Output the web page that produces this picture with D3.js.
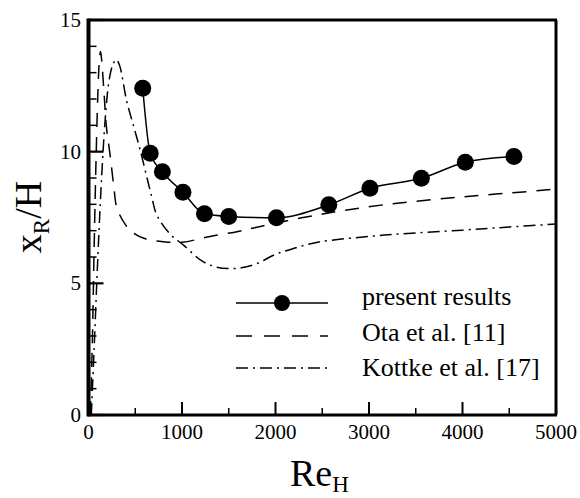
<!DOCTYPE html>
<html><head><meta charset="utf-8">
<script src="https://cdn.jsdelivr.net/npm/d3@7"></script>
<style>body{margin:0;background:#fff}svg{display:block}
svg text{font-family:"Liberation Serif","Tinos","Times New Roman","DejaVu Serif","Noto Serif",serif;}</style>
</head><body>
<svg id="c" width="580" height="498"></svg>
<script>
// present results
const presentRe = [580, 660, 790, 1010, 1240, 1500, 2010, 2570, 3010, 3560, 4030, 4550];
const presentXR = [12.41, 9.94, 9.24, 8.46, 7.64, 7.54, 7.49, 7.98, 8.61, 8.99, 9.60, 9.82];
// Ota et al. [11]
const otaRe = [20, 40, 60, 80, 100, 115, 128, 140, 165, 190, 230, 270, 305, 400, 470, 600, 800, 1000, 1300, 1600, 1850, 2450, 3150, 4050, 4900, 5000];
const otaXR = [0.0, 2.6, 6.3, 9.6, 12.2, 13.4, 13.8, 13.5, 12.3, 11.0, 9.9, 8.7, 7.85, 7.2, 6.94, 6.7, 6.58, 6.56, 6.78, 6.97, 7.17, 7.6, 7.98, 8.3, 8.55, 8.6];
// Kottke et al. [17]
const kotRe = [30, 60, 100, 140, 180, 220, 260, 295, 330, 410, 480, 550, 675, 730, 870, 1020, 1200, 1350, 1500, 1650, 1800, 2000, 2200, 2450, 3000, 3350, 4000, 4500, 5000];
const kotXR = [0.0, 2.5, 6.0, 9.0, 11.3, 12.7, 13.3, 13.5, 13.3, 11.9, 11.0, 10.1, 8.3, 7.6, 6.88, 6.44, 5.88, 5.63, 5.56, 5.6, 5.75, 6.1, 6.33, 6.56, 6.78, 6.88, 7.02, 7.14, 7.25];

const xMajor = [0, 1000, 2000, 3000, 4000, 5000];
const xMinor = [500, 1500, 2500, 3500, 4500];
const yMajor = [0, 5, 10, 15];
const yMinor = [1, 2, 3, 4, 6, 7, 8, 9, 11, 12, 13, 14];
const legendLabels = ["present results", "Ota et al. [11]", "Kottke et al. [17]"];

const svg = d3.select("#c");
const L = 88.5, R = 556, T = 20, B = 415;
const x = d3.scaleLinear().domain([0, 5000]).range([L, R]);
const y = d3.scaleLinear().domain([0, 15]).range([B, T]);

// ticks (inward)
const g = svg.append("g");
g.selectAll(".xmaj").data(xMajor).enter().append("line")
  .attr("x1", d => x(d)).attr("x2", d => x(d)).attr("y1", B).attr("y2", B - 13)
  .attr("stroke", "#000").attr("stroke-width", 2);
g.selectAll(".xmin").data(xMinor).enter().append("line")
  .attr("x1", d => x(d)).attr("x2", d => x(d)).attr("y1", B).attr("y2", B - 7)
  .attr("stroke", "#000").attr("stroke-width", 1.5);
g.selectAll(".ymaj").data(yMajor).enter().append("line")
  .attr("x1", L).attr("x2", L + 15).attr("y1", d => y(d)).attr("y2", d => y(d))
  .attr("stroke", "#000").attr("stroke-width", 2.2);
g.selectAll(".ymin").data(yMinor).enter().append("line")
  .attr("x1", L).attr("x2", L + 8).attr("y1", d => y(d)).attr("y2", d => y(d))
  .attr("stroke", "#000").attr("stroke-width", 1.5);

// frame
svg.append("line").attr("x1", L).attr("x2", L).attr("y1", T - 1.5).attr("y2", B + 1.5).attr("stroke", "#000").attr("stroke-width", 4);
svg.append("line").attr("x1", L).attr("x2", R + 1).attr("y1", B).attr("y2", B).attr("stroke", "#000").attr("stroke-width", 3);
svg.append("line").attr("x1", L).attr("x2", R + 1).attr("y1", T).attr("y2", T).attr("stroke", "#000").attr("stroke-width", 3);
svg.append("line").attr("x1", R).attr("x2", R).attr("y1", T).attr("y2", B).attr("stroke", "#000").attr("stroke-width", 3);

// tick labels
svg.selectAll(".xl").data(xMajor).enter().append("text")
  .attr("x", d => x(d)).attr("y", 439).attr("text-anchor", "middle")
  .attr("font-size", 21).text(d => d);
svg.selectAll(".yl").data(yMajor).enter().append("text")
  .attr("x", 81).attr("y", d => y(d) + 7).attr("text-anchor", "end")
  .attr("font-size", 21).text(d => d);

// curves
svg.append("clipPath").attr("id", "clip").append("rect")
  .attr("x", L).attr("y", T).attr("width", R - L).attr("height", B - T);
const line = d3.line().x(d => x(d[0])).y(d => y(d[1])).curve(d3.curveMonotoneX);
const lineC = d3.line().x(d => x(d[0])).y(d => y(d[1])).curve(d3.curveCatmullRom.alpha(0.5));
const plot = svg.append("g").attr("clip-path", "url(#clip)");

plot.append("path").datum(otaRe.map((r, i) => [r, otaXR[i]]))
  .attr("d", lineC).attr("fill", "none").attr("stroke", "#000").attr("stroke-width", 1.5)
  .attr("stroke-dasharray", "14,10");
plot.append("path").datum(kotRe.map((r, i) => [r, kotXR[i]]))
  .attr("d", lineC).attr("fill", "none").attr("stroke", "#000").attr("stroke-width", 1.5)
  .attr("stroke-dasharray", "12,5,2,5");
const pres = presentRe.map((r, i) => [r, presentXR[i]]);
plot.append("path").datum(pres).attr("d", line).attr("fill", "none")
  .attr("stroke", "#000").attr("stroke-width", 1.5);
plot.selectAll(".pt").data(pres).enter().append("circle")
  .attr("cx", d => x(d[0])).attr("cy", d => y(d[1])).attr("r", 8.5).attr("fill", "#000");

// legend
const lx1 = 236, lx2 = 328, lineYs = [303, 336, 368], textYs = [305, 341, 376];
const dashes = [null, "16,12", "12,5,2,5"];
legendLabels.forEach((lab, i) => {
  const ln = svg.append("line").attr("x1", lx1).attr("x2", lx2)
    .attr("y1", lineYs[i]).attr("y2", lineYs[i]).attr("stroke", "#000").attr("stroke-width", 1.5);
  if (dashes[i]) ln.attr("stroke-dasharray", dashes[i]);
  if (i === 0) svg.append("circle").attr("cx", 282).attr("cy", lineYs[i]).attr("r", 8).attr("fill", "#000");
  svg.append("text").attr("x", 362).attr("y", textYs[i])
    .attr("font-size", 26).text(lab);
});

// axis titles
const xt = svg.append("text").attr("x", 290).attr("y", 486)
  .attr("font-size", 38);
xt.append("tspan").text("Re");
xt.append("tspan").attr("font-size", 23).attr("dy", 6).text("H");

const yt = svg.append("text").attr("transform", "translate(41,217) rotate(-90)")
  .attr("text-anchor", "middle").attr("font-size", 38);
yt.append("tspan").text("x");
yt.append("tspan").attr("font-size", 23).attr("dy", 8).text("R");
yt.append("tspan").attr("dy", -8).text("/H");
</script>
</body></html>
